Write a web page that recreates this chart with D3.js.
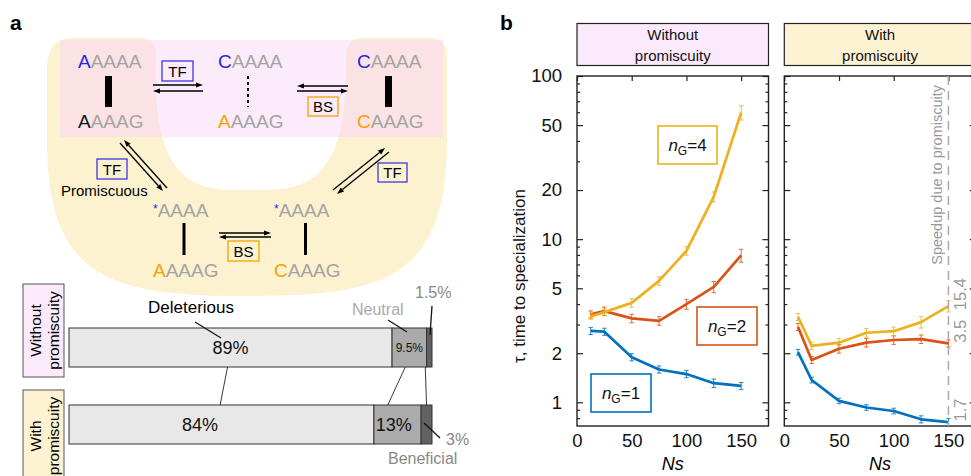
<!DOCTYPE html>
<html>
<head>
<meta charset="utf-8">
<script src="https://cdn.jsdelivr.net/npm/d3@7"></script>
<style>
  body { margin: 0; background: #fff; }
  svg { display: block; font-family: "Liberation Sans", Arial, sans-serif; }
</style>
</head>
<body>
<svg id="fig" width="971" height="476"></svg>
<script>
// ---- data ----
const ns = [12.5, 25, 50, 75, 100, 125, 150];
const xTicks = [0, 50, 100, 150];
const yMajor = [1, 2, 5, 10, 20, 50, 100];

const tauWithoutG1 = [2.74, 2.71, 1.89, 1.59, 1.49, 1.31, 1.26];
const tauWithoutG2 = [3.46, 3.62, 3.27, 3.16, 4.0, 5.1, 7.95];
const tauWithoutG4 = [3.36, 3.57, 4.07, 5.55, 8.48, 18.2, 59.7];
const tauWithG1 = [2.03, 1.37, 1.02, 0.93, 0.885, 0.787, 0.757];
const tauWithG2 = [2.90, 1.82, 2.13, 2.32, 2.41, 2.44, 2.30];
const tauWithG4 = [3.34, 2.22, 2.32, 2.67, 2.73, 3.10, 3.89];
// relative error bar half-widths
const errWithoutG1 = [0.05, 0.05, 0.05, 0.05, 0.05, 0.06, 0.05];
const errWithoutG2 = [0.05, 0.06, 0.06, 0.06, 0.07, 0.08, 0.09];
const errWithoutG4 = [0.04, 0.05, 0.06, 0.06, 0.06, 0.07, 0.10];
const errWithG1 = [0.04, 0.04, 0.04, 0.04, 0.04, 0.05, 0.05];
const errWithG2 = [0.05, 0.05, 0.06, 0.06, 0.06, 0.06, 0.05];
const errWithG4 = [0.05, 0.05, 0.06, 0.06, 0.06, 0.08, 0.08];
const speedupLabels = ['1.7', '3.5', '15.4'];

const effectNames = ['Deleterious', 'Neutral', 'Beneficial'];
const shareWithout = [89, 9.5, 1.5];
const shareWith = [84, 13, 3];
const shareTextWithout = ['89%', '9.5%', ''];
const shareTextWith = ['84%', '13%', ''];

const svg = d3.select('#fig');
const blue = '#2424e6', orange = '#f5a300', grey = '#a3a3a3';
const lineColors = ['#0072BD', '#D95319', '#EDB120'];

// ================= panel a : scheme =================
svg.append('text').attr('x', 10).attr('y', 30).attr('font-size', 21)
    .attr('font-weight', 'bold').text('a');

const shoe = 'M47 133 L47 70 Q47 38 72 38 L140 38 Q157 38 156 55 ' +
    'C150 195 205 190 250 190 C295 190 350 195 346 55 Q347 38 362 38 ' +
    'L430 38 Q447 38 447 58 L447 133 C449 280 384 296 247 296 C110 296 45 280 47 133 Z';
svg.append('clipPath').attr('id', 'pinkclip')
    .append('rect').attr('x', 60).attr('y', 40).attr('width', 383).attr('height', 97);
svg.append('path').attr('d', shoe).attr('fill', '#fdf2cf');
svg.append('rect').attr('x', 60).attr('y', 40).attr('width', 383).attr('height', 97)
    .attr('fill', '#fbebfb');
svg.append('path').attr('d', shoe).attr('fill', '#fbe3e5').attr('clip-path', 'url(#pinkclip)');

function seq(x, y, first, color, rest, star) {
    const t = svg.append('text').attr('x', x).attr('y', y).attr('font-size', 19);
    if (star) {
        t.append('tspan').attr('fill', blue).attr('font-size', 12).attr('dy', -4).text('*');
        t.append('tspan').attr('fill', grey).attr('dy', 4).text(rest);
    } else {
        t.append('tspan').attr('fill', color).text(first);
        t.append('tspan').attr('fill', grey).text(rest);
    }
}
function bar(x, y1, y2, w) {
    svg.append('line').attr('x1', x).attr('x2', x).attr('y1', y1).attr('y2', y2)
        .attr('stroke', '#000').attr('stroke-width', w);
}
function box(x, y, w, h, color, label) {
    svg.append('rect').attr('x', x).attr('y', y).attr('width', w).attr('height', h)
        .attr('fill', 'none').attr('stroke', color).attr('stroke-width', 1.3);
    svg.append('text').attr('x', x + w / 2).attr('y', y + h / 2 + 5.5)
        .attr('text-anchor', 'middle').attr('font-size', 15).text(label);
}
function arrow(x1, y1, x2, y2) {
    const a = Math.atan2(y2 - y1, x2 - x1), L = 7, W = 2.6;
    const bx = x2 - L * Math.cos(a), by = y2 - L * Math.sin(a);
    svg.append('line').attr('x1', x1).attr('y1', y1).attr('x2', bx).attr('y2', by)
        .attr('stroke', '#000').attr('stroke-width', 1.3);
    svg.append('path').attr('fill', '#000')
        .attr('d', `M${x2},${y2} L${bx - W * Math.sin(a)},${by + W * Math.cos(a)} L${bx + W * Math.sin(a)},${by - W * Math.cos(a)} Z`);
}

seq(78, 68, 'A', blue, 'AAAA');
bar(108.5, 76, 107, 7);
seq(78, 128, 'A', '#111', 'AAAG');
box(162, 61, 31, 20, '#3a3ae0', 'TF');
arrow(153, 85, 203, 85);
arrow(203, 91, 153, 91);

seq(218, 68, 'C', blue, 'AAAA');
svg.append('line').attr('x1', 248).attr('x2', 248).attr('y1', 76).attr('y2', 107)
    .attr('stroke', '#000').attr('stroke-width', 2).attr('stroke-dasharray', '3,3');
seq(218, 128, 'A', orange, 'AAAG');

arrow(348, 86, 297, 86);
arrow(297, 91, 348, 91);
box(308, 97, 30, 19, orange, 'BS');

seq(357, 68, 'C', blue, 'AAAA');
bar(388.5, 76, 107, 7);
seq(357, 128, 'C', orange, 'AAAG');

arrow(120, 143, 163, 191);
arrow(167, 188, 124, 140);
box(97, 159, 30, 20, '#3a3ae0', 'TF');
svg.append('text').attr('x', 61).attr('y', 196).attr('font-size', 15).text('Promiscuous');

arrow(333, 190, 385, 148);
arrow(389, 152, 337, 194);
box(378, 163, 29, 19, '#3a3ae0', 'TF');

seq(153, 217, '', null, 'AAAA', true);
bar(184, 223, 255, 3);
seq(153, 277, 'A', orange, 'AAAG');
arrow(219, 233, 271, 233);
arrow(271, 237, 219, 237);
box(228, 241, 31, 20, orange, 'BS');
seq(274, 217, '', null, 'AAAA', true);
bar(305.5, 223, 255, 3);
seq(274, 277, 'C', orange, 'AAAG');

// ================= panel a : stacked bars =================
const xb = d3.scaleLinear().domain([0, 100]).range([69, 432]);
const barRows = [
    { y: 328, share: shareWithout, text: shareTextWithout, pos: [0.5, 0.5, 0.5], fs: [18, 12, 18] },
    { y: 405, share: shareWith, text: shareTextWith, pos: [0.43, 0.42, 0.5], fs: [18, 18, 18] }
];
const segFill = ['#e8e8e8', '#ababab', '#626262'];
const barH = 39;

function sideBox(y, h, fill, l1, l2) {
    svg.append('rect').attr('x', 23).attr('y', y).attr('width', 41).attr('height', h)
        .attr('fill', fill).attr('stroke', '#555').attr('stroke-width', 1);
    const cy = y + h / 2;
    const t = svg.append('text').attr('transform', `translate(41,${cy}) rotate(-90)`)
        .attr('text-anchor', 'middle').attr('font-size', 15.5);
    t.append('tspan').attr('x', 0).attr('y', 0).text(l1);
    t.append('tspan').attr('x', 0).attr('y', 18).text(l2);
}
sideBox(284, 93, '#fbeafb', 'Without', 'promiscuity');
sideBox(390, 92, '#fdf3d2', 'With', 'promiscuity');

const labelX = [];
barRows.forEach(row => {
    let acc = 0;
    const xs = [];
    row.share.forEach((v, i) => {
        const x0 = xb(acc), x1 = xb(acc + v);
        svg.append('rect').attr('x', x0).attr('y', row.y).attr('width', x1 - x0).attr('height', barH)
            .attr('fill', segFill[i]).attr('stroke', '#333').attr('stroke-width', 1);
        const cx = x0 + (x1 - x0) * row.pos[i];
        xs.push(cx);
        if (row.text[i]) {
            svg.append('text').attr('x', cx).attr('y', row.y + barH / 2 + row.fs[i] * 0.36)
                .attr('text-anchor', 'middle').attr('font-size', row.fs[i]).attr('fill', '#111')
                .text(row.text[i]);
        }
        acc += v;
    });
    labelX.push(xs);
});
// connectors between the two bars
labelX[0].forEach((x, i) => {
    svg.append('line').attr('x1', x - (i === 0 ? 3 : 4)).attr('y1', 328 + barH)
        .attr('x2', labelX[1][i] - (i === 0 ? -20 : i === 1 ? 6 : 0)).attr('y2', 405)
        .attr('stroke', '#222').attr('stroke-width', 0.9);
});
function leader(x1, y1, x2, y2, w) {
    svg.append('line').attr('x1', x1).attr('y1', y1).attr('x2', x2).attr('y2', y2)
        .attr('stroke', '#111').attr('stroke-width', w || 1.3);
}
svg.append('text').attr('x', 148).attr('y', 313).attr('font-size', 17).text(effectNames[0]);
leader(195, 322, 221, 338);
svg.append('text').attr('x', 352).attr('y', 315).attr('font-size', 16).attr('fill', '#aaa').text(effectNames[1]);
leader(388, 320, 407, 332);
svg.append('text').attr('x', 415).attr('y', 298).attr('font-size', 16).attr('fill', '#888').text('1.5%');
leader(432, 306, 430, 335);
svg.append('text').attr('x', 446).attr('y', 445).attr('font-size', 16).attr('fill', '#888').text('3%');
leader(424, 423, 440, 438);
svg.append('text').attr('x', 388).attr('y', 464).attr('font-size', 16).attr('fill', '#888').text(effectNames[2]);

// ================= panel b =================
svg.append('text').attr('x', 500).attr('y', 30).attr('font-size', 21)
    .attr('font-weight', 'bold').text('b');

const yTop = 76, yBottom = 426;
const y = d3.scaleLog().domain([0.716, 100]).range([yBottom, yTop]);
const yMinor = y.ticks().filter(v => !yMajor.some(m => Math.abs(m - v) < 1e-9));

const panels = [
    { x0: 577, header: ['Without', 'promiscuity'], fill: '#fbeafb',
      series: [tauWithoutG1, tauWithoutG2, tauWithoutG4], errs: [errWithoutG1, errWithoutG2, errWithoutG4], labels: true },
    { x0: 784.3, header: ['With', 'promiscuity'], fill: '#fdf3d2',
      series: [tauWithG1, tauWithG2, tauWithG4], errs: [errWithG1, errWithG2, errWithG4], labels: false }
];

panels.forEach(p => {
    const x = d3.scaleLinear().domain([0, 175]).range([p.x0, p.x0 + 191.5]);
    const g = svg.append('g');

    // header box
    g.append('rect').attr('x', p.x0).attr('y', 23.5).attr('width', 191.5).attr('height', 42)
        .attr('fill', p.fill).attr('stroke', '#222').attr('stroke-width', 1.2);
    const ht = g.append('text').attr('text-anchor', 'middle').attr('font-size', 15).attr('fill', '#111');
    ht.append('tspan').attr('x', x(87.5)).attr('y', 40).text(p.header[0]);
    ht.append('tspan').attr('x', x(87.5)).attr('y', 61).text(p.header[1]);

    // axes
    g.append('g').attr('transform', `translate(${p.x0},0)`)
        .call(d3.axisLeft(y).tickValues(yMajor).tickSize(-6).tickPadding(15)
            .tickFormat(p.labels ? d3.format('d') : () => ''));
    g.append('g').attr('transform', `translate(${p.x0},0)`)
        .call(d3.axisLeft(y).tickValues(yMinor).tickSize(-3).tickFormat(''));
    g.append('g').attr('transform', `translate(${p.x0 + 191.5},0)`)
        .call(d3.axisRight(y).tickValues(yMajor).tickSize(-6).tickFormat(''));
    g.append('g').attr('transform', `translate(${p.x0 + 191.5},0)`)
        .call(d3.axisRight(y).tickValues(yMinor).tickSize(-3).tickFormat(''));
    g.append('g').attr('transform', `translate(0,${yTop})`)
        .call(d3.axisTop(x).tickValues(xTicks).tickSize(-5).tickFormat(''));
    g.append('g').attr('transform', `translate(0,${yBottom})`)
        .call(d3.axisBottom(x).tickValues(xTicks).tickSize(0).tickPadding(8));
    g.selectAll('.domain').remove();
    g.selectAll('.tick line').attr('stroke', '#222').attr('stroke-width', 1.2);
    g.selectAll('.tick text').attr('font-size', 18.5).attr('fill', '#111')
        .attr('font-family', '"Liberation Sans", Arial, sans-serif');
    g.append('rect').attr('x', p.x0).attr('y', yTop).attr('width', 191.5).attr('height', yBottom - yTop)
        .attr('fill', 'none').attr('stroke', '#222').attr('stroke-width', 1.4);

    g.append('text').attr('x', x(87.5)).attr('y', 470).attr('text-anchor', 'middle')
        .attr('font-size', 18).attr('font-style', 'italic').text('Ns');

    const line = d3.line().x((d, i) => x(ns[i])).y(d => y(d));
    p.series.forEach((s, k) => {
        const c = lineColors[k];
        g.append('path').datum(s).attr('d', line).attr('fill', 'none')
            .attr('stroke', c).attr('stroke-width', 2.7).attr('stroke-linejoin', 'round');
        const eb = g.append('g').attr('stroke', c).attr('stroke-width', 1).attr('opacity', 0.85);
        s.forEach((v, i) => {
            const e = p.errs[k][i], cx = x(ns[i]);
            const ya = y(v * (1 + e)), yb = y(v * (1 - e));
            eb.append('line').attr('x1', cx).attr('x2', cx).attr('y1', ya).attr('y2', yb);
            eb.append('line').attr('x1', cx - 2.2).attr('x2', cx + 2.2).attr('y1', ya).attr('y2', ya);
            eb.append('line').attr('x1', cx - 2.2).attr('x2', cx + 2.2).attr('y1', yb).attr('y2', yb);
        });
    });

    if (!p.labels) {
        const xs = x(150);
        g.append('line').attr('x1', xs).attr('x2', xs).attr('y1', yTop).attr('y2', yBottom)
            .attr('stroke', '#aaa').attr('stroke-width', 1.5).attr('stroke-dasharray', '9,6');
        g.append('text').attr('transform', `translate(942,85) rotate(-90)`)
            .attr('text-anchor', 'end').attr('font-size', 14.5).attr('fill', '#999')
            .text('Speedup due to promiscuity');
        p.series.forEach((s, k) => {
            g.append('text').attr('transform', `translate(966,${y(s[s.length - 1]) - 12}) rotate(-90)`)
                .attr('text-anchor', 'middle').attr('font-size', 16.5).attr('fill', '#999')
                .text(speedupLabels[k]);
        });
    }
});

// legend boxes (left panel)
function legend(x, y, w, h, c, n) {
    svg.append('rect').attr('x', x).attr('y', y).attr('width', w).attr('height', h)
        .attr('fill', '#fff').attr('stroke', c).attr('stroke-width', 1.6);
    const t = svg.append('text').attr('x', x + w / 2).attr('y', y + h / 2 + 6)
        .attr('text-anchor', 'middle').attr('font-size', 17).attr('fill', '#111');
    t.append('tspan').attr('font-style', 'italic').text('n');
    t.append('tspan').attr('font-size', 12).attr('dy', 4).text('G');
    t.append('tspan').attr('dy', -4).text('=' + n);
}
legend(658, 126, 59, 38, lineColors[2], 4);
legend(697, 307, 60, 38, lineColors[1], 2);
legend(591, 374, 60, 38, lineColors[0], 1);

svg.append('text').attr('transform', 'translate(525,276) rotate(-90)')
    .attr('text-anchor', 'middle').attr('font-size', 17).attr('fill', '#111')
    .text('\u03c4, time to specialization');
</script>
</body>
</html>
